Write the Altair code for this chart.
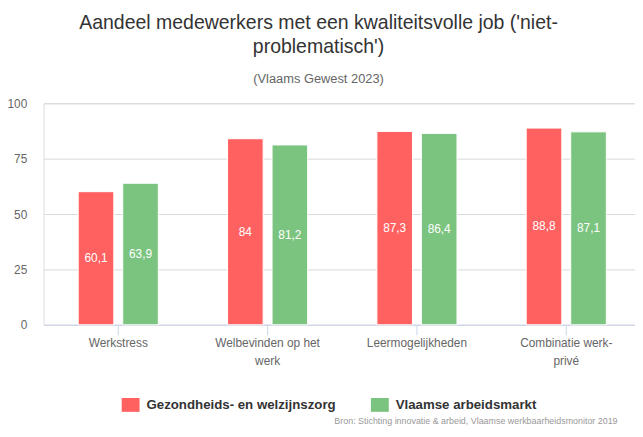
import altair as alt
import pandas as pd

categories = ["Werkstress", "Welbevinden op het werk", "Leermogelijkheden", "Combinatie werk-privé"]
series = ["Gezondheids- en welzijnszorg", "Vlaamse arbeidsmarkt"]
gezondheid = [60.1, 84, 87.3, 88.8]
vlaams = [63.9, 81.2, 86.4, 87.1]
colors = ["#ff6161", "#7bc47f"]
credits = "Bron: Stichting innovatie & arbeid, Vlaamse werkbaarheidsmonitor 2019"
title_lines = ["Aandeel medewerkers met een kwaliteitsvolle job ('niet-", "problematisch')"]
subtitle = "(Vlaams Gewest 2023)"
wrapped = {"Welbevinden op het werk": ["Welbevinden op het", "werk"],
           "Combinatie werk-privé": ["Combinatie werk-", "privé"]}

rows = []
for s, vals in zip(series, [gezondheid, vlaams]):
    for c, v in zip(categories, vals):
        rows.append({"cat": c, "serie": s, "value": v,
                     "label": f"{v:g}".replace(".", ",")})
df = pd.DataFrame(rows)

expr = "datum.label"
for k, v in wrapped.items():
    arr = "[" + ",".join("'" + p + "'" for p in v) + "]"
    expr = f"datum.value == '{k}' ? {arr} : ({expr})"

FONT = "Liberation Sans"

x = alt.X("cat:N", sort=categories, title=None,
          scale=alt.Scale(paddingInner=0.4636, paddingOuter=0.2318),
          axis=alt.Axis(labelAngle=0, labelExpr=expr, domainColor="#ccd6eb",
                        tickColor="#ccd6eb", tickSize=10, labelPadding=3,
                        labelColor="#666666", labelFontSize=12, labelLineHeight=18,
                        labelFont=FONT, grid=False))
xo = alt.XOffset("serie:N", sort=series, scale=alt.Scale(paddingInner=0.2, paddingOuter=0))
color = alt.Color("serie:N", sort=series, scale=alt.Scale(domain=series, range=colors),
                  legend=alt.Legend(title=None, orient="none", legendX=81, legendY=298,
                                    direction="horizontal", labelFontWeight="bold",
                                    labelFontSize=13.4, labelColor="#333333", labelFont=FONT,
                                    labelLimit=400,
                                    symbolType="M-1.29,-1L1.29,-1L1.29,1L-1.29,1Z",
                                    symbolSize=196, symbolStrokeWidth=0, symbolOpacity=1,
                                    labelOffset=9, columnPadding=34, padding=0, offset=0))

bars = alt.Chart(df).mark_bar(stroke="white", strokeWidth=1).encode(
    x=x, xOffset=xo,
    y=alt.Y("value:Q", title=None, scale=alt.Scale(domain=[0, 100]),
            axis=alt.Axis(values=[0, 25, 50, 75, 100], domain=False, ticks=False, tickSize=0,
                          labelPadding=17, labelColor="#666666", labelFontSize=12,
                          labelFont=FONT, gridColor="#d9d9d9")),
    color=color,
)

labels = alt.Chart(df).transform_calculate(mid="datum.value / 2").mark_text(
    color="white", fontSize=12, font=FONT, baseline="middle"
).encode(
    x=alt.X("cat:N", sort=categories, title=None),
    xOffset=alt.XOffset("serie:N", sort=series),
    y=alt.Y("mid:Q", title=None),
    text="label:N",
)

cred = alt.Chart(pd.DataFrame({"t": [credits]})).mark_text(
    align="left", baseline="bottom", fontSize=9, color="#999999", font=FONT
).encode(x=alt.value(294), y=alt.value(326), text="t:N")

chart = alt.layer(bars, labels, cred).properties(
    width=604, height=224,
    autosize=alt.AutoSizeParams(type="none"),
    padding={"left": 36, "top": 94, "right": -6, "bottom": 103},
    title=alt.TitleParams(text=title_lines, subtitle=subtitle, fontSize=19.7,
                          fontWeight="normal", color="#333333", font=FONT,
                          subtitleFont=FONT, subtitleColor="#666666", subtitleFontSize=13,
                          lineHeight=24, subtitlePadding=16, anchor="middle",
                          frame="group", offset=12, dx=-24),
).configure_view(stroke=None).configure(font=FONT)

chart.save("out.html", embed_options={"renderer": "svg", "actions": False})
